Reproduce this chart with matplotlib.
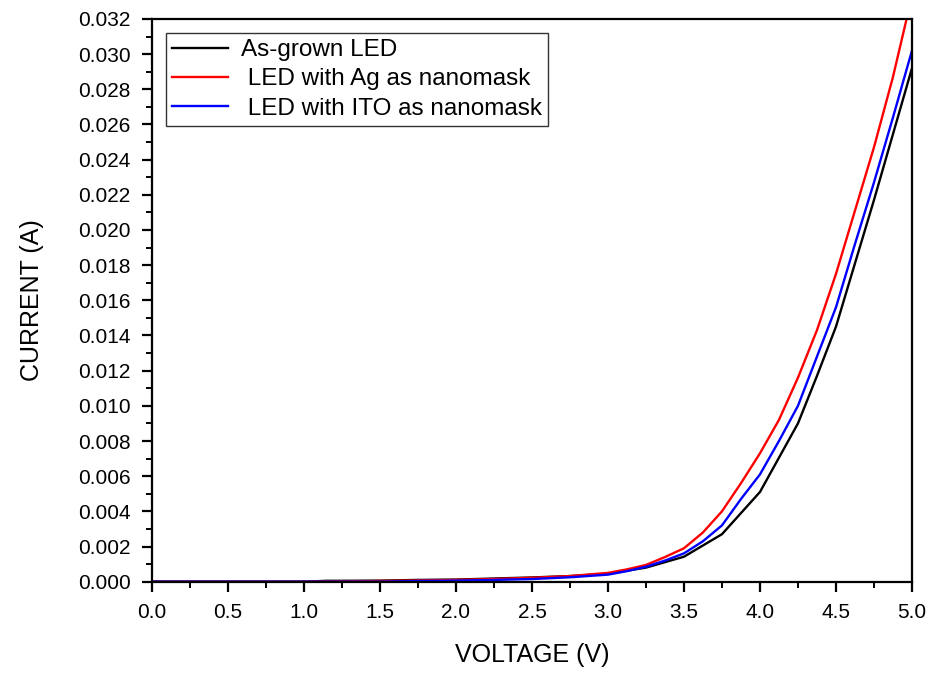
import matplotlib
matplotlib.use("Agg")
import matplotlib.pyplot as plt
from matplotlib.ticker import MultipleLocator, FormatStrFormatter

plt.rcParams['font.family'] = ['Liberation Sans', 'DejaVu Sans']

# Data (voltage in V, current in A)
v_black = [0.0, 0.25, 0.5, 0.75, 1.0, 1.15, 1.25, 1.5, 1.75, 2.0, 2.25, 2.5, 2.75,
           3.0, 3.25, 3.5, 3.75, 4.0, 4.25, 4.375, 4.5, 4.75, 5.0]
i_black = [0.0, 0.0, 0.0, 0.0, 0.0, 0.00005, 0.00005, 0.00006, 0.0001, 0.00012,
           0.00018, 0.00024, 0.00032, 0.00045, 0.0008, 0.00142, 0.0027, 0.0051,
           0.0090, 0.0117, 0.0145, 0.0217, 0.0292]

v_red = [0.0, 0.25, 0.5, 0.75, 1.0, 1.25, 1.5, 1.75, 2.0, 2.25, 2.5, 2.75, 3.0,
         3.125, 3.25, 3.375, 3.5, 3.625, 3.75, 3.875, 4.0, 4.125, 4.25, 4.375,
         4.5, 4.625, 4.75, 4.875, 5.0]
i_red = [0.0, 0.0, 0.0, 0.0, 0.0, 0.00002, 0.00004, 0.00007, 0.0001, 0.00015,
         0.00022, 0.00032, 0.0005, 0.0007, 0.00095, 0.0014, 0.0019, 0.0028,
         0.0040, 0.0056, 0.0073, 0.0092, 0.0116, 0.0143, 0.0175, 0.0211,
         0.0247, 0.0287, 0.0333]

v_blue = [0.0, 0.25, 0.5, 0.75, 1.0, 1.25, 1.5, 1.75, 2.0, 2.25, 2.5, 2.75, 3.0,
          3.125, 3.25, 3.375, 3.5, 3.625, 3.75, 3.875, 4.0, 4.125, 4.25, 4.375,
          4.5, 4.625, 4.75, 4.875, 5.0]
i_blue = [0.0, 0.0, 0.0, 0.0, 0.0, 0.0, 0.0, 0.00004, 0.00006, 0.0001, 0.00015,
          0.00025, 0.0004, 0.0006, 0.00085, 0.0012, 0.00161, 0.0023, 0.0032,
          0.0047, 0.0061, 0.0080, 0.0100, 0.0128, 0.0156, 0.0192, 0.0227,
          0.0264, 0.0302]

labels = ["As-grown LED", " LED with Ag as nanomask", " LED with ITO as nanomask"]
x_label = "VOLTAGE (V)"
y_label = "CURRENT (A)"

fig = plt.figure(figsize=(9.3, 6.73), dpi=100)
ax = fig.add_axes([0.1634, 0.1357, 0.8172, 0.8361])

ax.plot(v_black, i_black, color='black', lw=1.7, label=labels[0])
ax.plot(v_red, i_red, color='#ff0000', lw=1.7, label=labels[1])
ax.plot(v_blue, i_blue, color='#0000ff', lw=1.7, label=labels[2])

ax.set_xlim(0, 5.0)
ax.set_ylim(0, 0.032)
ax.xaxis.set_major_locator(MultipleLocator(0.5))
ax.xaxis.set_minor_locator(MultipleLocator(0.25))
ax.yaxis.set_major_locator(MultipleLocator(0.002))
ax.yaxis.set_minor_locator(MultipleLocator(0.001))
ax.xaxis.set_major_formatter(FormatStrFormatter('%.1f'))
ax.yaxis.set_major_formatter(FormatStrFormatter('%.3f'))

for s in ax.spines.values():
    s.set_linewidth(1.6)

ax.tick_params(which='major', direction='out', length=7.5, width=1.6,
               labelsize=15, pad=8, top=False, right=False)
ax.tick_params(which='minor', direction='out', length=4, width=1.4,
               top=False, right=False)

ax.set_xlabel(x_label, fontsize=18, labelpad=15)
ax.set_ylabel(y_label, fontsize=18, labelpad=24)

leg = ax.legend(loc='upper left', bbox_to_anchor=(0.018, 0.975), fontsize=17.5,
                frameon=True, fancybox=False, shadow=False, borderpad=0.25,
                handlelength=2.3, handletextpad=0.55, labelspacing=0.3,
                borderaxespad=0.0)
leg.get_frame().set_edgecolor('black')
leg.get_frame().set_linewidth(1.0)

fig.savefig('out.png', dpi=100)
